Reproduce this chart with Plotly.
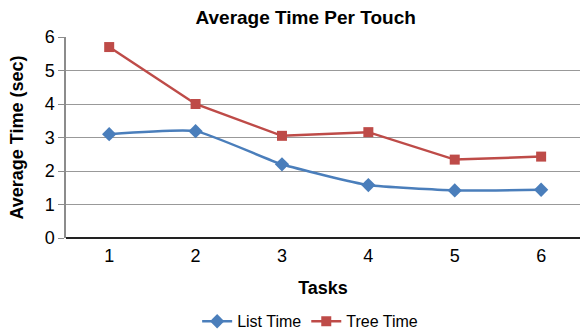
import plotly.graph_objects as go

tasks = ["1", "2", "3", "4", "5", "6"]
list_time = [3.10, 3.19, 2.20, 1.58, 1.42, 1.44]
tree_time = [5.70, 4.00, 3.05, 3.16, 2.34, 2.43]

fig = go.Figure()
fig.add_trace(go.Scatter(
    x=tasks, y=list_time, name="List Time", mode="lines+markers",
    line=dict(color="#4A7EBB", width=2.5, shape="spline", smoothing=0.45),
    marker=dict(symbol="diamond", size=11, color="#4A7EBB"),
))
fig.add_trace(go.Scatter(
    x=tasks, y=tree_time, name="Tree Time", mode="lines+markers",
    line=dict(color="#BE4B48", width=2.5),
    marker=dict(symbol="square", size=10, color="#BE4B48"),
))

font_family = "Liberation Sans, Arial, sans-serif"
fig.update_layout(
    width=580, height=332,
    margin=dict(l=66, r=0, t=37, b=94, autoexpand=False),
    paper_bgcolor="white", plot_bgcolor="white",
    font=dict(family=font_family, color="black", size=18),
    title=dict(text="<b>Average Time Per Touch</b>", x=0.527, xanchor="center",
               y=1 - 17 / 332, yanchor="middle", font=dict(size=19)),
    showlegend=True,
    legend=dict(orientation="h", x=0.475, xanchor="center", y=-0.33, yanchor="top",
                font=dict(size=16), itemwidth=30, tracegroupgap=0),
)
fig.update_xaxes(
    type="category", range=[-0.5, 5.45], automargin=False,
    showgrid=False, showline=False, ticks="",
    tickfont=dict(size=18), ticklabelstandoff=5,
    title=dict(text="<b>Tasks</b>", font=dict(size=18), standoff=16),
)
fig.update_yaxes(
    range=[0, 6], dtick=1, automargin=False,
    showgrid=True, gridcolor="#999999", gridwidth=1,
    showline=True, linecolor="#8C8C8C", linewidth=1.5,
    ticks="outside", ticklen=6, tickcolor="#8C8C8C",
    zeroline=True, zerolinecolor="#222222", zerolinewidth=1.5,
    tickfont=dict(size=18),
    title=dict(text="<b>Average Time (sec)</b>", font=dict(size=18), standoff=16),
)

fig.write_html(
    "out.html",
    config={"displayModeBar": False},
    post_script="document.body.style.margin='0px';document.body.style.overflow='hidden';",
)
